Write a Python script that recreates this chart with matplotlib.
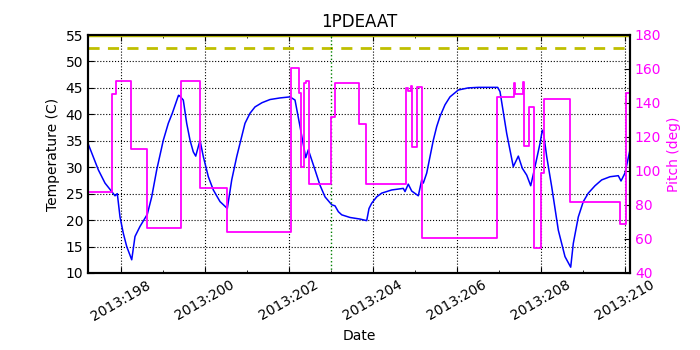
import numpy as np
import matplotlib
matplotlib.use("Agg")
import matplotlib.pyplot as plt
from matplotlib.ticker import MultipleLocator, FuncFormatter

# ---- data (day of year 2013)
temp_day = [197.214, 197.460, 197.619, 197.779, 197.857, 197.898, 197.912, 197.976, 198.055, 198.136,
            198.255, 198.333, 198.452, 198.626, 198.731, 198.850, 199.007, 199.126, 199.221, 199.369,
            199.393, 199.483, 199.564, 199.643, 199.721, 199.779, 199.881, 199.960, 200.079, 200.198,
            200.357, 200.531, 200.636, 200.755, 200.833, 200.952, 201.071, 201.190, 201.357, 201.548,
            201.786, 202.024, 202.143, 202.262, 202.398, 202.460, 202.619, 202.738, 202.857, 203.017,
            203.095, 203.174, 203.255, 203.452, 203.690, 203.850, 203.905, 203.969, 204.088, 204.207,
            204.445, 204.721, 204.762, 204.840, 204.921, 205.079, 205.160, 205.198, 205.279, 205.357,
            205.436, 205.517, 205.595, 205.714, 205.833, 206.031, 206.269, 206.507, 206.969, 207.024,
            207.183, 207.340, 207.460, 207.555, 207.660, 207.755, 207.857, 207.976, 208.031, 208.055,
            208.136, 208.255, 208.412, 208.571, 208.707, 208.769, 208.888, 209.007, 209.126, 209.286,
            209.445, 209.643, 209.840, 209.905, 210.000, 210.119]
temp_val = [34.5, 29.5, 27.0, 25.4, 24.6, 24.9, 25.0, 20.6, 17.5, 15.0,
            12.5, 16.9, 18.8, 21.1, 24.4, 29.5, 35.1, 38.3, 40.2, 43.6,
            43.5, 42.7, 38.3, 35.1, 32.9, 32.1, 35.1, 32.0, 28.2, 25.7,
            23.5, 22.2, 27.6, 32.0, 34.5, 38.3, 40.2, 41.4, 42.2, 42.8,
            43.1, 43.3, 42.7, 37.7, 31.8, 33.3, 29.5, 26.6, 24.4, 22.9,
            22.7, 21.6, 21.0, 20.5, 20.2, 19.9, 22.2, 23.2, 24.4, 25.1,
            25.7, 26.0, 25.4, 26.8, 25.5, 24.6, 27.6, 27.0, 28.9, 32.0,
            35.1, 37.7, 39.6, 41.8, 43.3, 44.6, 45.0, 45.1, 45.1, 44.3,
            36.4, 30.1, 32.1, 29.8, 28.5, 26.5, 30.1, 34.5, 37.0, 36.8,
            32.0, 26.3, 18.1, 13.1, 11.1, 15.6, 20.6, 23.5, 25.1, 26.5,
            27.6, 28.2, 28.4, 27.4, 28.9, 33.3]

pitch_day = [197.214, 197.793, 197.881, 198.238, 198.626, 199.417, 199.881, 200.531,
             202.055, 202.245, 202.286, 202.357, 202.393, 202.469, 202.988, 203.088,
             203.667, 203.833, 204.786, 204.83, 204.905, 204.94, 205.05, 205.17,
             206.952, 207.36, 207.38, 207.579, 207.595, 207.726, 207.833, 208.0,
             208.06, 208.683, 209.888, 210.012, 210.119]
pitch_val = [87.5, 145.3, 153.1, 113.0, 66.3, 152.8, 90.2, 64.3,
             160.4, 145.7, 102.5, 151.6, 153.1, 92.4, 131.6, 152.0,
             127.5, 92.2, 148.6, 147.2, 150.2, 114.3, 149.2, 60.4,
             143.7, 151.6, 145.1, 152.6, 114.9, 137.5, 54.9, 98.6,
             142.4, 81.6, 68.6, 146.1, 146.1]

planning_limit = 52.5
caution_limit = 55.0
event_day = 202.99

fig = plt.figure(figsize=(7, 3.5), dpi=100)
ax = fig.add_axes([88 / 700, 1 - 273 / 350, 542 / 700, 238 / 350])

ax.plot(temp_day, temp_val, color="b", lw=1.1)
ax.axhline(caution_limit, color="#bfbf00", lw=2.5)
ax.axhline(planning_limit, color="#bfbf00", lw=2, ls="--", dashes=(4, 3))
ax.axvline(event_day, color="g", ls=":", lw=1)

ax.set_xlim(197.214, 210.119)
ax.set_ylim(10, 55)
ax.xaxis.set_major_locator(MultipleLocator(2))
ax.xaxis.set_minor_locator(MultipleLocator(1))
ax.xaxis.set_major_formatter(FuncFormatter(lambda v, p: "2013:%03d" % round(v)))
ax.yaxis.set_major_locator(MultipleLocator(5))
ax.tick_params(direction="in", top=True, labelsize=10, length=4)
ax.tick_params(which="minor", direction="in", top=True, length=2)
for lab in ax.get_xticklabels():
    lab.set_rotation(30)
    lab.set_ha("center")
ax.grid(True, color="k", ls=":", lw=0.8)
ax.set_xlabel("Date", fontsize=10)
ax.set_ylabel("Temperature (C)", fontsize=10)
ax.set_title("1PDEAAT", fontsize=12)

ax2 = ax.twinx()
ax2.plot(pitch_day, pitch_val, color="#ff00ff", lw=1.3, drawstyle="steps-post")
ax2.set_ylim(40, 180)
ax2.yaxis.set_major_locator(MultipleLocator(20))
ax2.tick_params(direction="in", labelsize=10, colors="#ff00ff", length=4)
ax2.tick_params(axis="y", color="k")
ax2.set_ylabel("Pitch (deg)", color="#ff00ff", fontsize=10)
ax2.set_xlim(197.214, 210.119)

for a in (ax, ax2):
    for s in a.spines.values():
        s.set_linewidth(1.5)

fig.savefig("out.png", dpi=100)
